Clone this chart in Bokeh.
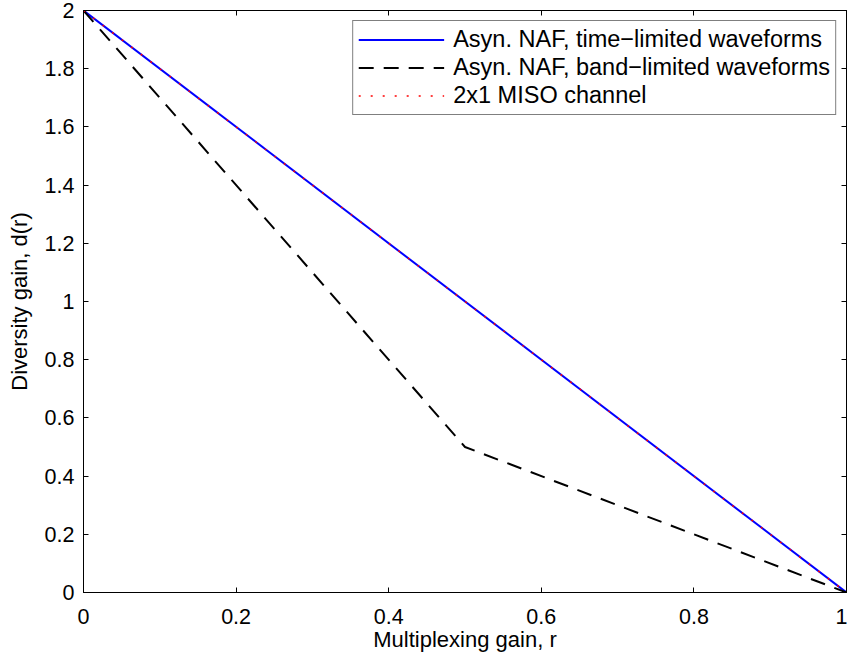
from bokeh.plotting import figure
from bokeh.models import Range1d, FixedTicker, LinearAxis, Legend, LegendItem
from bokeh.embed import file_html
from bokeh.resources import INLINE

# Data
r_time = [0.0, 1.0]
d_time = [2.0, 0.0]
r_band = [0.0, 0.5, 1.0]
d_band = [2.0, 0.5, 0.0]
r_miso = [0.0, 1.0]
d_miso = [2.0, 0.0]

x_ticks = [0, 0.2, 0.4, 0.6, 0.8, 1]
x_tick_labels = ["0", "0.2", "0.4", "0.6", "0.8", "1"]
y_ticks = [0, 0.2, 0.4, 0.6, 0.8, 1, 1.2, 1.4, 1.6, 1.8, 2]
y_tick_labels = ["0", "0.2", "0.4", "0.6", "0.8", "1", "1.2", "1.4", "1.6", "1.8", "2"]

series_names = ["Asyn. NAF, time\u2212limited waveforms",
                "Asyn. NAF, band\u2212limited waveforms",
                "2x1 MISO channel"]

FONT = "Liberation Sans"

p = figure(width=847, height=658, output_backend="svg", toolbar_location=None,
           x_range=Range1d(0, 1), y_range=Range1d(0, 2),
           min_border_left=83, min_border_right=1, min_border_top=10, min_border_bottom=66)
p.background_fill_color = "white"
p.border_fill_color = "white"
p.outline_line_color = "black"
p.outline_line_width = 1
p.xgrid.visible = False
p.ygrid.visible = False

def style_axis(ax, ticks, labels, show_labels=True):
    ax.ticker = FixedTicker(ticks=ticks)
    ax.major_label_overrides = {t: l for t, l in zip(ticks, labels)} if show_labels else {t: "" for t in ticks}
    ax.major_tick_in = 5
    ax.major_tick_out = 0
    ax.minor_tick_in = 0
    ax.minor_tick_out = 0
    ax.axis_line_color = "black"
    ax.major_tick_line_color = "black"
    ax.major_label_text_font = FONT
    ax.major_label_text_font_size = "21.5px" if show_labels else "0px"
    ax.major_label_text_color = "black"
    ax.axis_label_text_font = FONT
    ax.axis_label_text_font_size = "22px"
    ax.axis_label_text_font_style = "normal"
    ax.axis_label_text_color = "black"

style_axis(p.xaxis[0], x_ticks, x_tick_labels)
style_axis(p.yaxis[0], y_ticks, y_tick_labels)
p.xaxis[0].axis_label = "Multiplexing gain, r"
p.yaxis[0].axis_label = "Diversity gain, d(r)"
p.xaxis[0].major_label_standoff = 16
p.xaxis[0].axis_label_standoff = 0
p.yaxis[0].major_label_standoff = 9
p.yaxis[0].axis_label_standoff = 10

top_ax = LinearAxis()
style_axis(top_ax, x_ticks, x_tick_labels, show_labels=False)
top_ax.major_label_standoff = 0
p.add_layout(top_ax, "above")
right_ax = LinearAxis()
style_axis(right_ax, y_ticks, y_tick_labels, show_labels=False)
right_ax.major_label_standoff = 0
p.add_layout(right_ax, "right")

l1 = p.line(r_time, d_time, line_color="#0000ff", line_width=2)
l2 = p.line(r_band, d_band, line_color="black", line_width=2, line_dash="15 10")
l3 = p.line(r_miso, d_miso, line_color="#ff0000", line_width=1.5, line_dash="2 10")

legend = Legend(items=[LegendItem(label=series_names[0], renderers=[l1]),
                       LegendItem(label=series_names[1], renderers=[l2]),
                       LegendItem(label=series_names[2], renderers=[l3])],
                location="top_right")
legend.margin = 10
legend.padding = 5
legend.spacing = 1
legend.label_height = 25
legend.glyph_height = 25
legend.glyph_width = 86
legend.label_standoff = 9
legend.label_text_font = FONT
legend.label_text_font_size = "23.5px"
legend.label_text_color = "black"
legend.border_line_color = "black"
legend.border_line_width = 1.5
legend.background_fill_color = "white"
legend.background_fill_alpha = 1
p.add_layout(legend, "center")

open("out.html", "w").write(file_html(p, INLINE))
